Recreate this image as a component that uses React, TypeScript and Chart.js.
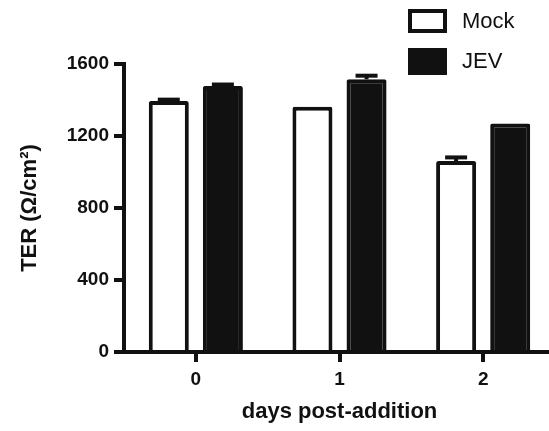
import React, { useEffect, useRef } from "react";
import { Chart, registerables } from "chart.js";

Chart.register(...registerables);

const categories = ["0", "1", "2"];
const mockValues = [1394, 1363, 1061];
const mockErrors = [8, 0, 20];
const jevValues = [1478, 1515, 1270];
const jevErrors = [8, 20, 0];
const yTicks = [0, 400, 800, 1200, 1600];
const seriesNames = ["Mock", "JEV"];

const FONT = "'Liberation Sans', Arial, Helvetica, sans-serif";
const INK = "#111";

const errorBarPlugin = {
  id: "errorBars",
  afterDatasetsDraw(chart: any) {
    const ctx = chart.ctx;
    const yScale = chart.scales.y;
    const errs = [mockErrors, jevErrors];
    chart.data.datasets.forEach((ds: any, di: number) => {
      const meta = chart.getDatasetMeta(di);
      meta.data.forEach((bar: any, i: number) => {
        const e = errs[di][i];
        if (!e) return;
        const v = ds.data[i];
        const yTop = yScale.getPixelForValue(v + e);
        const yBar = yScale.getPixelForValue(v);
        ctx.save();
        ctx.strokeStyle = INK;
        ctx.lineWidth = 4;
        ctx.beginPath();
        ctx.moveTo(bar.x, yBar);
        ctx.lineTo(bar.x, yTop);
        ctx.stroke();
        ctx.beginPath();
        ctx.moveTo(bar.x - 11, yTop);
        ctx.lineTo(bar.x + 11, yTop);
        ctx.stroke();
        ctx.restore();
      });
    });
  },
};

const legendPlugin = {
  id: "customLegend",
  afterDraw(chart: any) {
    const ctx = chart.ctx;
    ctx.save();
    ctx.fillStyle = "#fff";
    ctx.fillRect(408, 9, 39, 24);
    ctx.strokeStyle = INK;
    ctx.lineWidth = 4;
    ctx.strokeRect(410, 11, 35, 20);
    ctx.fillStyle = INK;
    ctx.fillRect(408, 48, 39, 27);
    ctx.font = `22px ${FONT}`;
    ctx.textBaseline = "middle";
    ctx.textAlign = "left";
    ctx.fillText(seriesNames[0], 462, 22);
    ctx.fillText(seriesNames[1], 462, 62);
    ctx.restore();
  },
};

export default function App() {
  const ref = useRef<HTMLCanvasElement>(null);
  useEffect(() => {
    if (!ref.current) return;
    const chart = new Chart(ref.current, {
      type: "bar",
      data: {
        labels: categories,
        datasets: [
          {
            label: seriesNames[0],
            data: mockValues,
            backgroundColor: "#fff",
            borderColor: INK,
            borderWidth: 4,
            borderRadius: 2,
            borderSkipped: "start",
            categoryPercentage: 0.753,
            barPercentage: 0.74,
          },
          {
            label: seriesNames[1],
            data: jevValues,
            backgroundColor: INK,
            borderColor: INK,
            borderWidth: 4,
            borderRadius: 2,
            borderSkipped: "start",
            categoryPercentage: 0.753,
            barPercentage: 0.74,
          },
        ],
      },
      options: {
        responsive: false,
        animation: false,
        events: [],
        layout: { padding: { top: 64, left: 0, right: 0, bottom: 0 } },
        plugins: { legend: { display: false }, tooltip: { enabled: false } },
        scales: {
          x: {
            offset: true,
            grid: {
              offset: false,
              drawOnChartArea: false,
              drawTicks: true,
              tickLength: 10,
              lineWidth: 4,
              color: INK,
            },
            border: { display: true, color: INK, width: 4 },
            ticks: {
              color: INK,
              padding: 6,
              font: { family: FONT, size: 19, weight: "bold" },
            },
            title: {
              display: true,
              text: "days post-addition",
              color: INK,
              font: { family: FONT, size: 22, weight: "bold" },
              padding: { top: 0, bottom: 6 },
            },
            afterFit(scale: any) {
              scale.height = 79;
            },
          },
          y: {
            min: 0,
            max: 1600,
            afterBuildTicks(scale: any) {
              scale.ticks = yTicks.map((v) => ({ value: v }));
            },
            grid: {
              drawOnChartArea: false,
              drawTicks: true,
              tickLength: 10,
              lineWidth: 4,
              color: INK,
            },
            border: { display: true, color: INK, width: 4 },
            ticks: {
              color: INK,
              padding: 5,
              font: { family: FONT, size: 19, weight: "bold" },
              callback: (v: any) => String(v),
            },
            title: {
              display: true,
              text: "TER (Ω/cm²)",
              color: INK,
              font: { family: FONT, size: 22, weight: "bold" },
              padding: { top: 17, bottom: 0 },
            },
            afterFit(scale: any) {
              scale.width = 124;
            },
          },
        },
      },
      plugins: [errorBarPlugin, legendPlugin],
    });
    return () => chart.destroy();
  }, []);
  return (
    <div
      style={{
        position: "fixed",
        left: 0,
        top: 0,
        width: 549,
        height: 431,
        overflow: "hidden",
        background: "#fff",
      }}
    >
      <canvas ref={ref} width={555} height={431} style={{ display: "block" }} />
    </div>
  );
}
